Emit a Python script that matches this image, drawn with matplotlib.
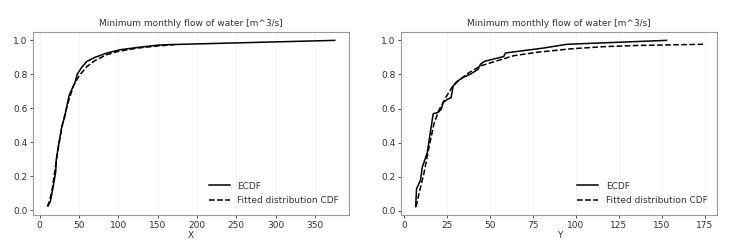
import matplotlib
matplotlib.use('Agg')
import matplotlib.pyplot as plt

title = 'Minimum monthly flow of water [m^3/s]'

# left panel (X)
ecdf_x_vals = [10.7, 13.7, 17, 20.5, 21.3, 24.7, 28.6, 32, 34.1, 37.5, 41.8, 44.8,
               47.8, 53.4, 59.8, 70.4, 85.4, 102.4, 128, 150, 165, 375]
ecdf_x_prob = [0.025, 0.05, 0.13, 0.225, 0.30, 0.40, 0.50, 0.55, 0.60, 0.675, 0.72, 0.75,
               0.80, 0.84, 0.875, 0.90, 0.925, 0.945, 0.96, 0.972, 0.975, 1.0]
fit_x_vals = [10, 13, 16, 20, 24, 28, 33, 38, 43, 50, 60, 70, 85, 100, 125, 150, 172]
fit_x_prob = [0.02, 0.06, 0.12, 0.25, 0.37, 0.48, 0.58, 0.66, 0.73, 0.79, 0.845, 0.88,
              0.915, 0.935, 0.955, 0.967, 0.975]

# right panel (Y)
ecdf_y_vals = [6.8, 7.3, 9.6, 10.6, 13.5, 17, 19.7, 21.7, 22.8, 25.1, 27.4, 28.6, 30.5,
               34.8, 38.3, 43.1, 44.5, 46.8, 53.2, 58, 59, 81.2, 94.8, 152.8]
ecdf_y_prob = [0.025, 0.13, 0.18, 0.255, 0.34, 0.57, 0.577, 0.596, 0.635, 0.654, 0.664,
               0.732, 0.757, 0.785, 0.80, 0.83, 0.86, 0.877, 0.893, 0.905, 0.926, 0.955,
               0.977, 1.0]
fit_y_vals = [7.1, 8.7, 11.6, 14.5, 17.4, 20.3, 24.2, 28, 31.9, 37.7, 44.5, 54.1, 63.8,
              77.3, 96.6, 116, 135.3, 174]
fit_y_prob = [0.025, 0.10, 0.22, 0.37, 0.51, 0.59, 0.664, 0.726, 0.765, 0.81, 0.85, 0.88,
              0.91, 0.93, 0.95, 0.963, 0.97, 0.977]

panels = [
    ('X', ecdf_x_vals, ecdf_x_prob, fit_x_vals, fit_x_prob),
    ('Y', ecdf_y_vals, ecdf_y_prob, fit_y_vals, fit_y_prob),
]

text_color = '#333333'
fs = 6.5
plt.rcParams['font.family'] = ['DejaVu Sans']
plt.rcParams['font.size'] = fs

fig = plt.figure(figsize=(7.35, 2.41), dpi=100)
rects = [[0.045, 0.108, 0.430, 0.759], [0.546, 0.108, 0.430, 0.759]]

for rect, (name, ex, ey, fx, fy) in zip(rects, panels):
    ax = fig.add_axes(rect)
    ax.plot(ex, ey, color='black', lw=1.1, label='ECDF')
    ax.plot(fx, fy, color='black', lw=1.1, linestyle='--', label='Fitted distribution CDF')
    ax.set_title(title, fontsize=fs, color=text_color, pad=4)
    ax.set_xlabel(name, fontsize=fs, color=text_color, labelpad=1)
    ax.set_yticks([0.0, 0.2, 0.4, 0.6, 0.8, 1.0])
    ax.tick_params(labelsize=fs, colors=text_color, length=2, width=0.6, pad=2)
    ax.grid(True, axis='x', color='#f2f2f2', lw=0.6)
    ax.set_axisbelow(True)
    for sp in ax.spines.values():
        sp.set_color('#999999')
        sp.set_linewidth(0.8)
    leg = ax.legend(loc='lower right', frameon=False, fontsize=fs, handlelength=2.4,
                    borderaxespad=0.7, labelspacing=0.6)
    for t in leg.get_texts():
        t.set_color(text_color)

fig.savefig('out.png', dpi=100)
